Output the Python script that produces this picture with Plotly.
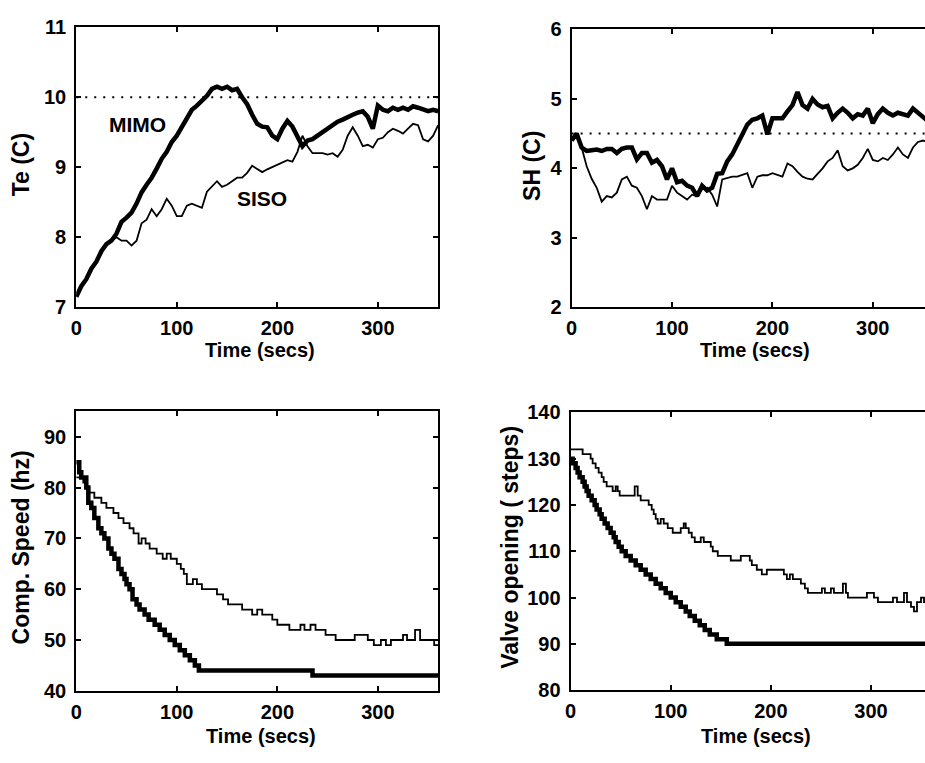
import plotly.graph_objects as go

W, H = 925, 763

# ---------------- data ----------------
# Top-left: evaporating temperature Te (C)
t_te = [0, 5, 10, 15, 20, 25, 30, 35, 40, 45, 50, 55, 60, 65, 70, 75, 80, 85, 90, 95,
        100, 105, 110, 115, 120, 125, 130, 135, 140, 145, 150, 155, 160, 165, 170, 175,
        180, 185, 190, 195, 200, 205, 210, 215, 220, 225, 230, 235, 240, 245, 250, 255,
        260, 265, 270, 275, 280, 285, 290, 295, 300, 305, 310, 315, 320, 325, 330, 335,
        340, 345, 350, 355, 360]
te_mimo = [7.15, 7.3, 7.4, 7.55, 7.65, 7.8, 7.9, 7.95, 8.05, 8.22, 8.28, 8.35, 8.48, 8.64,
           8.75, 8.85, 8.98, 9.12, 9.22, 9.36, 9.45, 9.58, 9.7, 9.82, 9.88, 9.95, 10.02,
           10.12, 10.15, 10.12, 10.15, 10.1, 10.12, 10.0, 9.9, 9.75, 9.62, 9.58, 9.57,
           9.45, 9.4, 9.55, 9.66, 9.58, 9.45, 9.3, 9.38, 9.4, 9.45, 9.5, 9.55, 9.6, 9.65,
           9.68, 9.72, 9.75, 9.78, 9.8, 9.72, 9.55, 9.88, 9.82, 9.8, 9.85, 9.82, 9.85,
           9.82, 9.87, 9.85, 9.82, 9.8, 9.82, 9.8]
te_siso = [7.15, 7.3, 7.4, 7.55, 7.65, 7.8, 7.9, 7.95, 8.0, 7.95, 7.95, 7.88, 7.95, 8.2,
           8.25, 8.4, 8.3, 8.4, 8.55, 8.45, 8.3, 8.3, 8.45, 8.48, 8.45, 8.42, 8.65, 8.72,
           8.8, 8.72, 8.75, 8.8, 8.85, 8.85, 8.92, 9.02, 8.98, 8.93, 8.97, 9.0, 9.04,
           9.06, 9.1, 9.08, 9.22, 9.45, 9.3, 9.2, 9.2, 9.2, 9.18, 9.2, 9.15, 9.25, 9.45,
           9.57, 9.45, 9.3, 9.32, 9.28, 9.4, 9.42, 9.5, 9.55, 9.52, 9.48, 9.55, 9.62, 9.6,
           9.4, 9.37, 9.45, 9.6]
te_setpoint = 10.0

# Top-right: superheat SH (C)
t_sh = t_te
sh_mimo = [4.4, 4.5, 4.3, 4.25, 4.26, 4.27, 4.25, 4.28, 4.28, 4.22, 4.28, 4.3, 4.3, 4.13,
           4.22, 4.22, 4.08, 4.12, 4.03, 3.84, 4.0, 3.8, 3.82, 3.75, 3.72, 3.6, 3.75, 3.68,
           3.72, 3.92, 3.93, 4.1, 4.2, 4.35, 4.49, 4.63, 4.7, 4.72, 4.76, 4.49, 4.72, 4.72,
           4.72, 4.82, 4.91, 5.1, 4.91, 4.86, 5.0, 4.92, 4.88, 4.9, 4.72, 4.8, 4.86, 4.8,
           4.72, 4.78, 4.76, 4.86, 4.65, 4.78, 4.86, 4.8, 4.76, 4.8, 4.78, 4.76, 4.86, 4.8,
           4.72, 4.68, 4.7]
sh_siso = [4.4, 4.45, 4.3, 4.03, 3.85, 3.72, 3.52, 3.6, 3.58, 3.65, 3.84, 3.88, 3.75, 3.72,
           3.6, 3.41, 3.6, 3.55, 3.55, 3.55, 3.75, 3.65, 3.6, 3.55, 3.62, 3.6, 3.7, 3.72,
           3.62, 3.45, 3.84, 3.86, 3.88, 3.88, 3.9, 3.93, 3.72, 3.88, 3.9, 3.9, 3.93, 3.9,
           3.88, 4.07, 4.03, 3.95, 3.88, 3.85, 3.84, 3.92, 4.0, 4.1, 4.15, 4.26, 4.03, 3.97,
           4.0, 4.05, 4.15, 4.28, 4.12, 4.1, 4.15, 4.12, 4.2, 4.3, 4.2, 4.15, 4.3, 4.38,
           4.4, 4.38, 4.4]
sh_setpoint = 4.5

# Bottom-left: compressor speed (hz), stepwise
t_cs_mimo = [0, 3, 5, 10, 12, 15, 18, 22, 25, 28, 32, 35, 38, 42, 45, 48, 50, 53, 56, 60,
             63, 68, 72, 78, 83, 88, 93, 98, 103, 108, 113, 118, 122, 235, 360]
cs_mimo = [85, 83, 82, 80, 77, 76, 74, 72, 71, 70, 68, 67, 66, 64, 63, 62, 61, 60, 58, 57,
           56, 55, 54, 53, 52, 51, 50, 49, 48, 47, 46, 45, 44, 43, 43]
t_cs_siso = [0, 7, 10, 13, 18, 25, 30, 37, 42, 47, 53, 57, 62, 65, 69, 73, 80, 86, 90, 94,
             100, 104, 107, 110, 116, 120, 125, 140, 146, 151, 165, 175, 180, 185, 195,
             200, 212, 223, 227, 233, 238, 248, 258, 277, 290, 296, 303, 308, 313, 325,
             329, 337, 342, 356, 360]
cs_siso = [82, 81, 80, 79, 78, 77, 76, 75, 74, 73, 72, 71, 69, 70, 69, 68, 67, 66, 67, 66,
           65, 64, 63, 61, 62, 61, 60, 59, 58, 57, 56, 55, 56, 55, 54, 53, 52, 53, 52, 53,
           52, 51, 50, 51, 50, 49, 50, 49, 50, 51, 50, 52, 50, 49, 49]

# Bottom-right: valve opening (steps), stepwise
t_v_mimo = [0, 2, 5, 7, 9, 12, 14, 16, 18, 21, 24, 26, 29, 31, 34, 37, 40, 43, 45, 48, 51,
            55, 60, 65, 70, 75, 80, 85, 90, 95, 100, 105, 110, 115, 119, 124, 129, 134,
            139, 146, 156, 360]
v_mimo = [130, 129, 128, 127, 126, 125, 124, 123, 122, 121, 120, 119, 118, 117, 116, 115,
          114, 113, 112, 111, 110, 109, 108, 107, 106, 105, 104, 103, 102, 101, 100, 99,
          98, 97, 96, 95, 94, 93, 92, 91, 90, 90]
t_v_siso = [0, 12, 20, 22, 25, 28, 31, 33, 36, 42, 45, 47, 49, 62, 64, 67, 70, 78, 81, 83,
            85, 87, 90, 93, 97, 102, 110, 113, 115, 118, 121, 124, 130, 133, 140, 142, 147,
            160, 170, 179, 181, 186, 191, 196, 210, 213, 216, 219, 222, 230, 234, 237, 251,
            254, 260, 263, 272, 275, 277, 296, 303, 307, 322, 326, 333, 336, 340, 343, 346,
            350, 353, 360]
v_siso = [132, 131, 130, 129, 128, 127, 126, 125, 124, 123, 124, 123, 122, 122, 124, 122,
          121, 120, 119, 118, 117, 116, 117, 116, 115, 114, 115, 116, 115, 114, 113, 112,
          113, 112, 111, 110, 109, 108, 109, 108, 107, 106, 105, 106, 106, 105, 104, 105,
          104, 103, 102, 101, 102, 101, 102, 101, 103, 101, 100, 101, 100, 99, 100, 99,
          101, 99, 98, 97, 99, 100, 99, 99]

x_ticks = [0, 100, 200, 300]

# ---------------- figure ----------------
def px_x(p):
    return p / W

def px_y(p):
    return 1 - p / H

fig = go.Figure()

THICK = dict(color="black", width=4.5)
THIN = dict(color="black", width=1.8)
DOT = dict(color="black", width=2, dash="2px,7px")

# top-left
fig.add_trace(go.Scatter(x=[0, 360], y=[te_setpoint, te_setpoint], mode="lines", line=DOT, xaxis="x", yaxis="y"))
fig.add_trace(go.Scatter(x=t_te, y=te_siso, mode="lines", line=THIN, xaxis="x", yaxis="y"))
fig.add_trace(go.Scatter(x=t_te, y=te_mimo, mode="lines", line=THICK, xaxis="x", yaxis="y"))
# top-right
fig.add_trace(go.Scatter(x=[0, 360], y=[sh_setpoint, sh_setpoint], mode="lines", line=DOT, xaxis="x2", yaxis="y2"))
fig.add_trace(go.Scatter(x=t_sh, y=sh_siso, mode="lines", line=THIN, xaxis="x2", yaxis="y2"))
fig.add_trace(go.Scatter(x=t_sh, y=sh_mimo, mode="lines", line=THICK, xaxis="x2", yaxis="y2"))
# bottom-left
fig.add_trace(go.Scatter(x=t_cs_siso, y=cs_siso, mode="lines", line=dict(THIN, shape="hv"), xaxis="x3", yaxis="y3"))
fig.add_trace(go.Scatter(x=t_cs_mimo, y=cs_mimo, mode="lines", line=dict(THICK, shape="hv"), xaxis="x3", yaxis="y3"))
# bottom-right
fig.add_trace(go.Scatter(x=t_v_siso, y=v_siso, mode="lines", line=dict(THIN, shape="hv"), xaxis="x4", yaxis="y4"))
fig.add_trace(go.Scatter(x=t_v_mimo, y=v_mimo, mode="lines", line=dict(THICK, shape="hv"), xaxis="x4", yaxis="y4"))

FONT = "Liberation Sans, Arial, sans-serif"
tickfont = dict(family=FONT, size=20, color="black", weight="bold")

def xax(domain, rng, anchor, mirror="ticks"):
    return dict(domain=domain, range=rng, anchor=anchor, tickvals=x_ticks,
                ticks="inside", ticklen=5, tickwidth=1.5, tickcolor="black",
                showline=True, linecolor="black", linewidth=2, mirror=mirror,
                showgrid=False, zeroline=False, tickfont=tickfont,
                ticklabelstandoff=2, fixedrange=True)

def yax(domain, rng, anchor, tickvals, mirror="ticks"):
    return dict(domain=domain, range=rng, anchor=anchor, tickvals=tickvals,
                ticks="inside", ticklen=5, tickwidth=1.5, tickcolor="black",
                showline=True, linecolor="black", linewidth=2, mirror=mirror,
                showgrid=False, zeroline=False, tickfont=tickfont,
                ticklabelstandoff=4, fixedrange=True)

dx_left = [px_x(70.7), px_x(435)]
dx_tr = [px_x(569.3), 1.0]
dx_br = [px_x(568.3), 1.0]

fig.update_layout(
    width=W, height=H,
    margin=dict(l=0, r=0, t=0, b=0),
    paper_bgcolor="white", plot_bgcolor="white",
    showlegend=False,
    xaxis=xax(dx_left, [0, 360], "y"),
    yaxis=yax([px_y(305), px_y(16.7)], [7, 11], "x", [7, 8, 9, 10, 11]),
    xaxis2=xax(dx_tr, [0, 352], "y2"),
    yaxis2=yax([px_y(305), px_y(19)], [2, 6], "x2", [2, 3, 4, 5, 6], mirror=False),
    xaxis3=xax(dx_left, [0, 360], "y3"),
    yaxis3=yax([px_y(700), px_y(412.3)], [40, 95], "x3", [40, 50, 60, 70, 80, 90]),
    xaxis4=xax(dx_br, [0, 354], "y4"),
    yaxis4=yax([px_y(699.3), px_y(413.3)], [80, 140], "x4", [80, 90, 100, 110, 120, 130, 140], mirror=False),
)

titlefont = dict(family=FONT, size=20, color="black", weight="bold")
yfont = dict(family=FONT, size=23, color="black", weight="bold")
labelfont = dict(family=FONT, size=21, color="black", weight="bold")

annots = []
for (cx, cy) in [(256, 349), (754, 349), (257, 747), (755, 747)]:
    annots.append(dict(text="Time (secs)", x=px_x(cx), y=px_y(cy), xref="paper", yref="paper",
                       showarrow=False, font=titlefont, xanchor="center", yanchor="middle"))
for (txt, cx, cy) in [("Te (C)", 16, 158), ("SH (C)", 530, 160),
                      ("Comp. Speed (hz)", 15, 552.5), ("Valve opening ( steps)", 507, 552)]:
    annots.append(dict(text=txt, x=px_x(cx), y=px_y(cy), xref="paper", yref="paper",
                       showarrow=False, font=yfont, textangle=-90,
                       xanchor="center", yanchor="middle"))
annots.append(dict(text="MIMO", x=60.6, y=9.61, xref="x", yref="y", showarrow=False,
                   font=labelfont, xanchor="center", yanchor="middle"))
annots.append(dict(text="SISO", x=184.6, y=8.56, xref="x", yref="y", showarrow=False,
                   font=labelfont, xanchor="center", yanchor="middle"))
fig.update_layout(annotations=annots)

fig.write_html("out.html", config={"displayModeBar": False})
